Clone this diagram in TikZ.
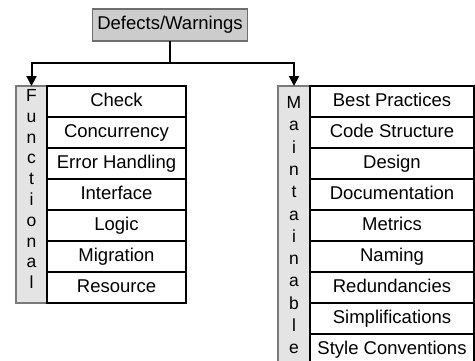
\documentclass[tikz,border=0pt]{standalone}
\usepackage{fontspec}
\setmainfont{Liberation Sans}
\usetikzlibrary{arrows.meta}
\definecolor{topfill}{HTML}{CCCCCC}
\definecolor{topdraw}{HTML}{6E6E6E}
\definecolor{stripfill}{HTML}{E4E4E4}
\definecolor{stripdraw}{HTML}{7A7A7A}
\begin{document}
\begin{tikzpicture}[x=1pt,y=-1pt,
  every node/.style={inner sep=0pt, outer sep=0pt, font=\fontsize{18.5}{20.9}\selectfont},
  boxtext/.style={text height=13.3pt, text depth=3.9pt},
  topbox/.style={boxtext, draw=topdraw, fill=topfill, line width=1.3pt, minimum width=155pt, minimum height=32pt},
  strip/.style={draw=stripdraw, fill=stripfill, line width=1.3pt},
  letter/.style={anchor=base, font=\fontsize{17.5}{20}\selectfont},
  leftitem/.style={boxtext, draw=black, line width=1.4pt, minimum width=139pt, minimum height=31pt},
  rightitem/.style={boxtext, draw=black, line width=1.4pt, minimum width=164pt, minimum height=31pt},
  conn/.style={line width=2pt, draw=black},
  arr/.style={conn, -{Triangle[width=10pt,length=10pt]}}
]
\useasboundingbox (0,0) rectangle (475,360);
\node[topbox] (top) at (170,25) {Defects/Warnings};
\coordinate (j) at (170,63);
% left group
\node[strip, minimum width=31pt, minimum height=217pt] (fs) at (31.5,194.5) {};
\foreach \c [count=\i from 0] in {F,u,n,c,t,i,o,n,a,l}
  \node[letter] (f\i) at (31.5,{101.5+20.8*\i}) {\c};
\foreach \t [count=\i from 0] in {Check,Concurrency,Error Handling,Interface,Logic,Migration,Resource}
  \node[leftitem] (l\i) at (116.5,{101.5+31*\i}) {\t};
% right group
\node[strip, minimum width=32pt, minimum height=279pt] (ms) at (294,225.5) {};
\foreach \c [count=\i from 0] in {M,a,i,n,t,a,i,n,a,b,l,e}
  \node[letter] (m\i) at (294,{108.5+22.3*\i}) {\c};
\foreach \t [count=\i from 0] in {Best Practices,Code Structure,Design,Documentation,Metrics,Naming,Redundancies,Simplifications,Style Conventions}
  \node[rightitem] (r\i) at (392,{101.5+31*\i}) {\t};
% connectors
\draw[conn] (top.south) -- (j);
\draw[arr] (j) -| (fs.north);
\draw[arr] (j) -| (ms.north);
\end{tikzpicture}
\end{document}
